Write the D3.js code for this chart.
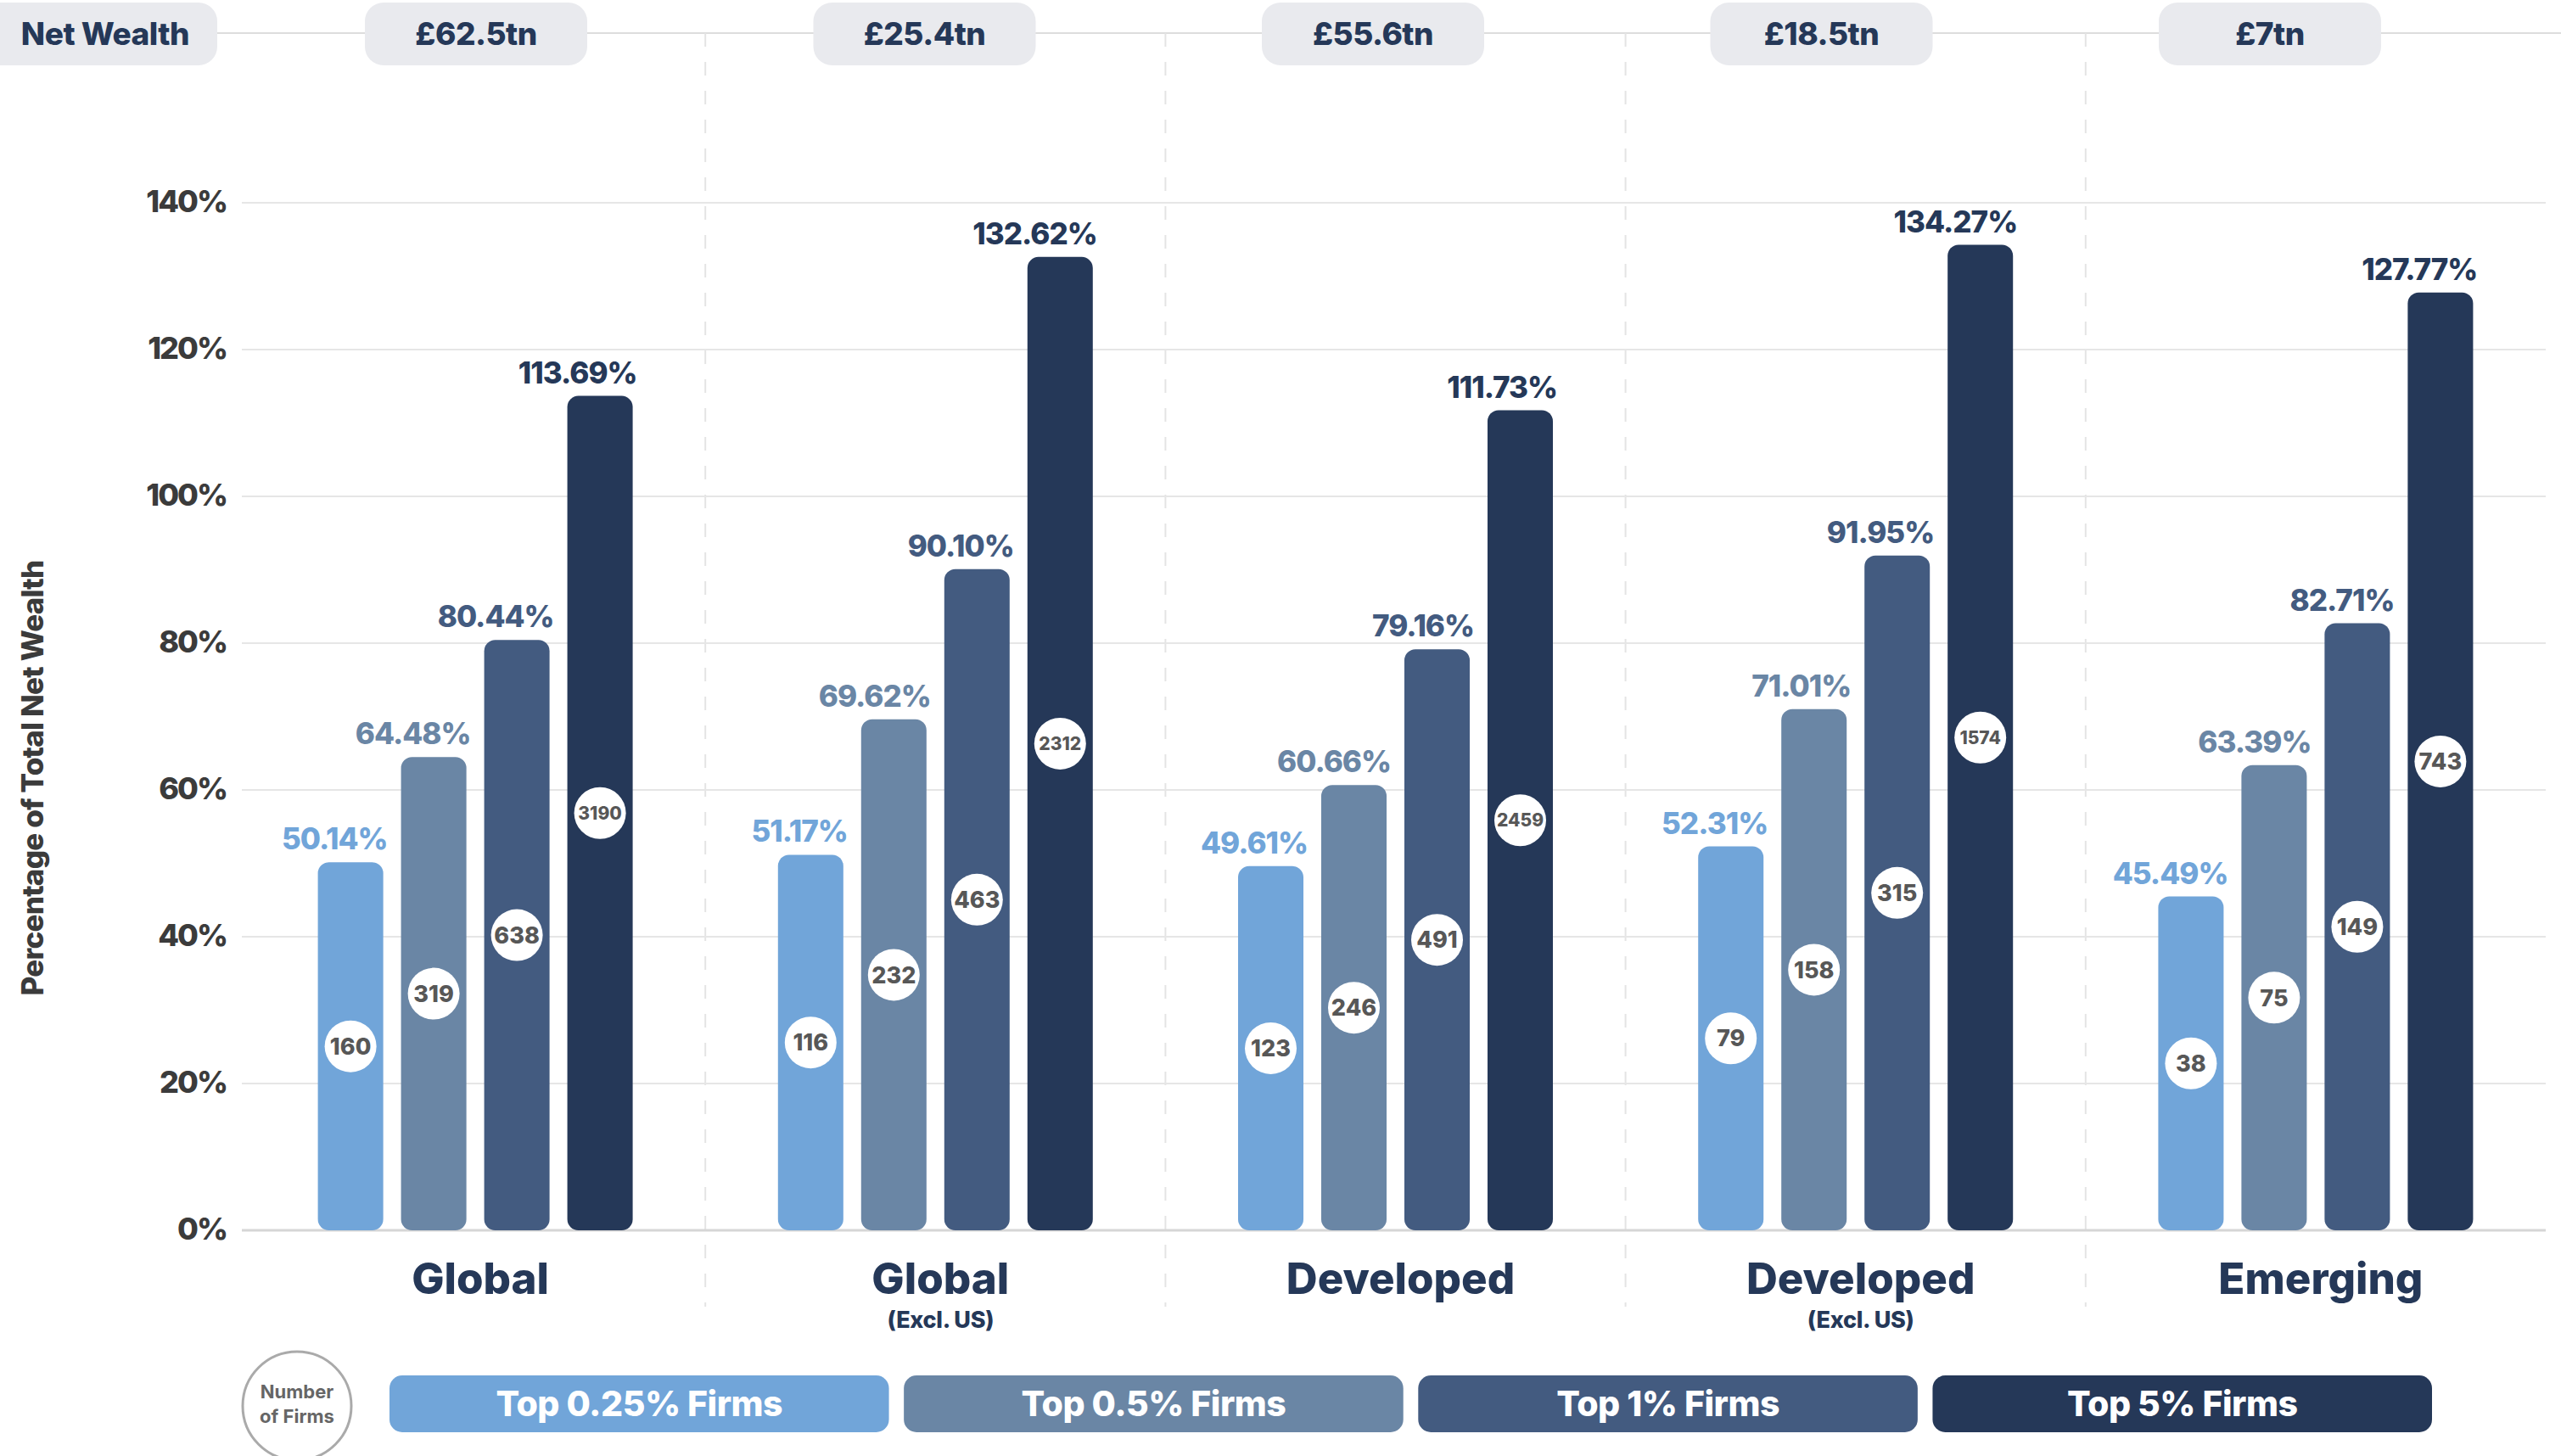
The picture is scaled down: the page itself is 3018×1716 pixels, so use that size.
<!DOCTYPE html>
<html>
<head>
<meta charset="utf-8">
<script src="https://cdn.jsdelivr.net/npm/d3@7"></script>
<style>
  html, body { margin: 0; padding: 0; background: #fff; }
  svg { display: block; font-family: Inter, "Noto Sans", sans-serif; }
</style>
</head>
<body>
<div class="chart"></div>
<script>
'use strict';

// data
const groups = ["Global", "Global (Excl. US)", "Developed", "Developed (Excl. US)", "Emerging"];
const groupNames = ["Global", "Global", "Developed", "Developed", "Emerging"];
const groupSubs = ["", "(Excl. US)", "", "(Excl. US)", ""];
const netWealth = ["£62.5tn", "£25.4tn", "£55.6tn", "£18.5tn", "£7tn"];
const series = ["Top 0.25% Firms", "Top 0.5% Firms", "Top 1% Firms", "Top 5% Firms"];
const top025 = [50.14, 51.17, 49.61, 52.31, 45.49];
const top05 = [64.48, 69.62, 60.66, 71.01, 63.39];
const top1 = [80.44, 90.10, 79.16, 91.95, 82.71];
const top5 = [113.69, 132.62, 111.73, 134.27, 127.77];
const firms025 = [160, 116, 123, 79, 38];
const firms05 = [319, 232, 246, 158, 75];
const firms1 = [638, 463, 491, 315, 149];
const firms5 = [3190, 2312, 2459, 1574, 743];
const yTicks = [0, 20, 40, 60, 80, 100, 120, 140];

const values = [top025, top05, top1, top5];
const firms = [firms025, firms05, firms1, firms5];
const colors = ["#71a5d9", "#6a86a5", "#435b80", "#253858"];

const W = 3018, H = 1716;
const dark = "#253858";

const svg = d3.select(".chart").append("svg")
  .attr("width", W).attr("height", H);

// scales
const x0 = d3.scaleBand().domain(groups).range([289, 3000]);
const x1 = d3.scaleBand().domain(series)
  .range([(x0.bandwidth() - 371) / 2, (x0.bandwidth() + 371) / 2])
  .paddingInner(0.214);
const y = d3.scaleLinear().domain([0, 140]).range([1450, 239]);
const color = d3.scaleOrdinal().domain(series).range(colors);

// header row
const headerY = 39;
svg.append("line")
  .attr("x1", 0).attr("x2", W)
  .attr("y1", headerY).attr("y2", headerY)
  .attr("stroke", "#dddddd").attr("stroke-width", 2);

// dashed separators between groups
svg.append("g").selectAll("line")
  .data(groups.slice(1))
  .join("line")
  .attr("x1", d => x0(d)).attr("x2", d => x0(d))
  .attr("y1", headerY).attr("y2", 1540)
  .attr("stroke", "#e4e4e4").attr("stroke-width", 2)
  .attr("stroke-dasharray", "16,18");

// gridlines
svg.append("g").selectAll("line")
  .data(yTicks)
  .join("line")
  .attr("x1", 285).attr("x2", 3000)
  .attr("y1", d => y(d)).attr("y2", d => y(d))
  .attr("stroke", d => d === 0 ? "#d6d6d6" : "#e6e6e6")
  .attr("stroke-width", d => d === 0 ? 3 : 2);

// y axis labels
const yAxis = d3.axisLeft(y).tickValues(yTicks).tickFormat(d => d + "%").tickSize(0).tickPadding(0);
svg.append("g")
  .attr("transform", "translate(267,0)")
  .call(yAxis)
  .call(g => g.select(".domain").remove())
  .selectAll("text")
  .attr("font-family", "Inter, sans-serif")
  .attr("font-size", 36)
  .attr("font-weight", 800)
  .attr("letter-spacing", -2)
  .attr("fill", "#3b3b3b")
  .attr("dy", "0.3em");

svg.append("text")
  .attr("transform", "translate(51,917) rotate(-90)")
  .attr("text-anchor", "middle")
  .attr("font-size", 35)
  .attr("font-weight", 800)
  .attr("letter-spacing", -0.8)
  .attr("fill", "#3b3b3b")
  .text("Percentage of Total Net Wealth");

// pills
const hx = d3.scaleBand().domain(groups).range([296.75, 2939.25]);
svg.append("rect")
  .attr("x", -20).attr("y", 3).attr("width", 276).attr("height", 74)
  .attr("rx", 22).attr("fill", "#e9eaee");
svg.append("text")
  .attr("x", 124).attr("y", 53)
  .attr("text-anchor", "middle")
  .attr("font-size", 37).attr("font-weight", 800)
  .attr("letter-spacing", -0.5)
  .attr("fill", dark)
  .text("Net Wealth");
const pills = svg.append("g").selectAll("g")
  .data(groups)
  .join("g")
  .attr("transform", d => `translate(${hx(d) + hx.bandwidth() / 2},0)`);
pills.append("rect")
  .attr("x", -131).attr("y", 3).attr("width", 262).attr("height", 74)
  .attr("rx", 22).attr("fill", "#e9eaee");
pills.append("text")
  .attr("y", 53)
  .attr("text-anchor", "middle")
  .attr("font-size", 37).attr("font-weight", 800)
  .attr("letter-spacing", -0.5)
  .attr("fill", dark)
  .text((d, i) => netWealth[i]);

// bars
const rows = [];
groups.forEach((g, gi) => {
  series.forEach((s, si) => {
    rows.push({group: g, series: s, value: values[si][gi], firms: firms[si][gi]});
  });
});

const bar = svg.append("g").selectAll("g")
  .data(rows)
  .join("g")
  .attr("transform", d => `translate(${x0(d.group) + x1(d.series)},0)`);

bar.append("rect")
  .attr("x", 0)
  .attr("y", d => y(d.value))
  .attr("width", x1.bandwidth())
  .attr("height", d => y(0) - y(d.value))
  .attr("rx", 13)
  .attr("fill", d => color(d.series));

// value labels sit right-aligned just past the bar edge
bar.append("text")
  .attr("x", x1.bandwidth() + 5)
  .attr("y", d => y(d.value) - 15)
  .attr("text-anchor", "end")
  .attr("font-size", 35)
  .attr("font-weight", 800)
  .attr("letter-spacing", -1)
  .attr("fill", d => color(d.series))
  .text(d => d.value.toFixed(2) + "%");

bar.append("circle")
  .attr("cx", x1.bandwidth() / 2)
  .attr("cy", d => y(d.value / 2))
  .attr("r", 30.5)
  .attr("fill", "#fff");

bar.append("text")
  .attr("x", x1.bandwidth() / 2)
  .attr("y", d => y(d.value / 2))
  .attr("dy", "0.36em")
  .attr("text-anchor", "middle")
  .attr("font-size", d => d.firms >= 1000 ? 21 : 27)
  .attr("font-weight", 800)
  .attr("fill", "#575757")
  .text(d => d.firms);

// category labels
const cats = svg.append("g").selectAll("g")
  .data(groups)
  .join("g")
  .attr("transform", d => `translate(${x0(d) + x0.bandwidth() / 2 + 6},0)`);
cats.append("text")
  .attr("y", 1525)
  .attr("text-anchor", "middle")
  .attr("font-size", 51).attr("font-weight", 800)
  .attr("fill", dark)
  .text((d, i) => groupNames[i]);
cats.append("text")
  .attr("y", 1565)
  .attr("text-anchor", "middle")
  .attr("font-size", 27).attr("font-weight", 800)
  .attr("letter-spacing", -0.3)
  .attr("fill", dark)
  .text((d, i) => groupSubs[i]);

// legend
svg.append("circle")
  .attr("cx", 350).attr("cy", 1657).attr("r", 64)
  .attr("fill", "#fff").attr("stroke", "#aaaaaa").attr("stroke-width", 3);
svg.append("text")
  .attr("x", 350).attr("y", 1648)
  .attr("text-anchor", "middle")
  .attr("font-size", 22).attr("font-weight", 700).attr("fill", "#666")
  .text("Number");
svg.append("text")
  .attr("x", 350).attr("y", 1677)
  .attr("text-anchor", "middle")
  .attr("font-size", 22).attr("font-weight", 700).attr("fill", "#666")
  .text("of Firms");

const lx = d3.scaleBand().domain(series).range([459, 2866]).paddingInner(0.029);
const legend = svg.append("g").selectAll("g")
  .data(series)
  .join("g")
  .attr("transform", d => `translate(${lx(d)},1621)`);
legend.append("rect")
  .attr("width", lx.bandwidth()).attr("height", 67)
  .attr("rx", 15)
  .attr("fill", d => color(d));
legend.append("text")
  .attr("x", lx.bandwidth() / 2).attr("y", 48)
  .attr("text-anchor", "middle")
  .attr("font-size", 41).attr("font-weight", 800)
  .attr("letter-spacing", -0.5)
  .attr("fill", "#fff")
  .text(d => d);
</script>
</body>
</html>
